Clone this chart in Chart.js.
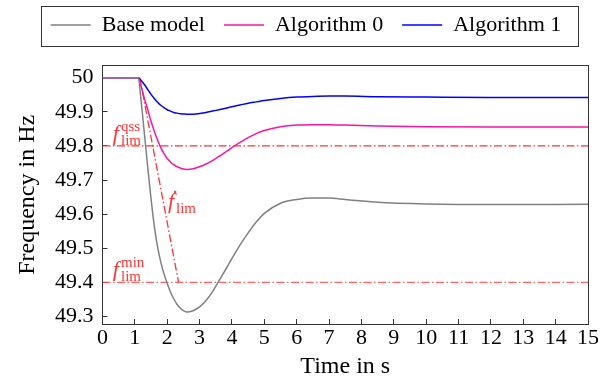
<!DOCTYPE html>
<html lang="en">
<head>
<meta charset="UTF-8">
<title>Frequency response</title>
<script src="https://cdn.jsdelivr.net/npm/chart.js"></script>
<style>
  html, body { margin: 0; padding: 0; background: #fff; }
  #wrap { width: 612px; height: 389px; }
</style>
</head>
<body>
<div id="wrap"><canvas id="chart"></canvas></div>
<script>
// time axis (s) and frequency of each model (Hz)
const times = [0, 1.1, 1.2, 1.3, 1.4, 1.5, 1.6, 1.7, 1.8, 1.9, 2.0, 2.1, 2.2, 2.3, 2.4, 2.5, 2.6, 2.8, 3.0, 3.2, 3.4, 3.6, 3.8, 4.0, 4.25, 4.5, 4.75, 5.0, 5.5, 6.0, 6.5, 7.0, 7.5, 8.5, 10, 12, 15];
const baseModel = [50, 50, 49.925, 49.83, 49.735, 49.645, 49.565, 49.505, 49.46, 49.425, 49.397, 49.372, 49.352, 49.336, 49.325, 49.317, 49.313, 49.317, 49.328, 49.347, 49.373, 49.405, 49.437, 49.470, 49.510, 49.545, 49.577, 49.602, 49.632, 49.643, 49.647, 49.647, 49.643, 49.635, 49.630, 49.628, 49.629];
const algorithm0 = [50, 50, 49.972, 49.937, 49.905, 49.872, 49.843, 49.817, 49.795, 49.777, 49.763, 49.753, 49.745, 49.739, 49.735, 49.732, 49.731, 49.733, 49.739, 49.747, 49.757, 49.769, 49.782, 49.795, 49.810, 49.824, 49.836, 49.845, 49.856, 49.861, 49.862, 49.862, 49.861, 49.858, 49.856, 49.855, 49.855];
const algorithm1 = [50, 50, 49.991, 49.979, 49.965, 49.951, 49.939, 49.928, 49.919, 49.912, 49.906, 49.902, 49.898, 49.896, 49.894, 49.8935, 49.893, 49.893, 49.895, 49.898, 49.902, 49.906, 49.910, 49.915, 49.920, 49.925, 49.929, 49.933, 49.939, 49.943, 49.945, 49.946, 49.946, 49.944, 49.943, 49.942, 49.942];

// limits
const qssLimit = 49.8;
const minLimit = 49.4;
const rocofTimes = [1.15, 2.35];
const rocofValues = [50, 49.4];

const xTicks = [0, 1, 2, 3, 4, 5, 6, 7, 8, 9, 10, 11, 12, 13, 14, 15];
const yTicks = [49.3, 49.4, 49.5, 49.6, 49.7, 49.8, 49.9, 50];

// label anchors in data units
const limitLabels = [
  { base: 'f', sup: 'qss', sub: 'lim', t: 0.32, f: 49.818 },
  { base: '\u1E1F', sup: '', sub: 'lim', t: 2.02, f: 49.619 },
  { base: 'f', sup: 'min', sub: 'lim', t: 0.32, f: 49.419 }
];

const serif = '"Liberation Serif", "DejaVu Serif", serif';
const red = '#ff3333';
const dashDot = [8, 2.5, 1.5, 2.5];

function toPoints(xs, ys) {
  return xs.map((x, i) => ({ x: x, y: ys[i] }));
}

const legendFrame = {
  id: 'legendFrame',
  afterDraw(chart) {
    const boxes = chart.legend.legendHitBoxes;
    if (!boxes || !boxes.length) return;
    const first = boxes[0], last = boxes[boxes.length - 1];
    const ctx = chart.ctx;
    ctx.save();
    ctx.strokeStyle = '#333';
    ctx.lineWidth = 1;
    ctx.strokeRect(Math.round(first.left - 10) + 0.5, Math.round(first.top - 8) + 0.5,
      Math.round(last.left + last.width - first.left + 26), 40);
    ctx.restore();
  }
};

const limitText = {
  id: 'limitText',
  afterDatasetsDraw(chart) {
    const ctx = chart.ctx;
    const xs = chart.scales.x, ys = chart.scales.y;
    ctx.save();
    ctx.fillStyle = red;
    ctx.textBaseline = 'alphabetic';
    ctx.textAlign = 'left';
    limitLabels.forEach(l => {
      const px = xs.getPixelForValue(l.t);
      const py = ys.getPixelForValue(l.f);
      ctx.font = 'italic 22px ' + serif;
      ctx.fillText(l.base, px, py);
      const w = ctx.measureText(l.base).width + 2;
      ctx.font = '15px ' + serif;
      if (l.sup) ctx.fillText(l.sup, px + w, py - 9);
      ctx.fillText(l.sub, px + w, py + 5);
    });
    ctx.restore();
  }
};

const curve = (label, values, color) => ({
  label: label,
  data: toPoints(times, values),
  borderColor: color,
  backgroundColor: color,
  borderWidth: 1.5,
  pointRadius: 0,
  showLine: true,
  cubicInterpolationMode: 'monotone',
  fill: false
});

const limitLine = (xs, ys, color) => ({
  label: '',
  data: toPoints(xs, ys),
  borderColor: color,
  borderWidth: 1.3,
  borderDash: dashDot,
  pointRadius: 0,
  showLine: true,
  fill: false
});

new Chart(document.getElementById('chart'), {
  type: 'scatter',
  data: {
    datasets: [
      curve('Base model', baseModel, '#808080'),
      curve('Algorithm 0', algorithm0, '#f5169e'),
      curve('Algorithm 1', algorithm1, '#0000ff'),
      limitLine([0, 15], [qssLimit, qssLimit], red),
      limitLine([0, 15], [minLimit, minLimit], 'rgba(255,60,60,0.8)'),
      limitLine(rocofTimes, rocofValues, red)
    ]
  },
  options: {
    responsive: true,
    maintainAspectRatio: false,
    animation: false,
    layout: { padding: { top: -5, left: 0, right: 0, bottom: 0 } },
    plugins: {
      tooltip: { enabled: false },
      legend: {
        position: 'top',
        labels: {
          color: '#000',
          font: { family: serif, size: 22 },
          usePointStyle: true,
          pointStyle: 'line',
          pointStyleWidth: 40,
          padding: 19,
          filter: item => item.datasetIndex < 3
        }
      }
    },
    scales: {
      x: {
        type: 'linear',
        position: 'bottom',
        min: 0,
        max: 15,
        afterFit: s => { s.height = 65; },
        afterBuildTicks: s => { s.ticks = xTicks.map(v => ({ value: v })); },
        grid: { drawOnChartArea: false, tickLength: -5, color: '#333' },
        border: { color: '#333' },
        ticks: { color: '#000', font: { family: serif, size: 22 }, padding: 6, maxRotation: 0, autoSkip: false },
        title: { display: true, text: 'Time in s', color: '#000', font: { family: serif, size: 24 }, padding: { top: 0, bottom: 8 } }
      },
      y: {
        type: 'linear',
        position: 'left',
        min: 49.278,
        max: 50.035,
        afterFit: s => { s.width = 102.5; },
        afterBuildTicks: s => { s.ticks = yTicks.map(v => ({ value: v })); },
        grid: { drawOnChartArea: false, tickLength: -5, color: '#333' },
        border: { color: '#333' },
        ticks: {
          color: '#000', font: { family: serif, size: 22 }, padding: 14, autoSkip: false,
          callback: v => (v === 50 ? '50' : v.toFixed(1))
        },
        title: { display: true, text: 'Frequency in Hz', color: '#000', font: { family: serif, size: 24 }, padding: { top: 13, bottom: 0 } }
      },
      xTop: {
        type: 'linear',
        position: 'top',
        min: 0,
        max: 15,
        afterFit: s => { s.height = 19.7; },
        grid: { display: false },
        border: { display: true, color: '#333' },
        ticks: { display: false }
      },
      yRight: {
        type: 'linear',
        position: 'right',
        min: 49.278,
        max: 50.035,
        afterFit: s => { s.width = 24; },
        grid: { display: false },
        border: { display: true, color: '#333' },
        ticks: { display: false }
      }
    }
  },
  plugins: [legendFrame, limitText]
});
</script>
</body>
</html>
